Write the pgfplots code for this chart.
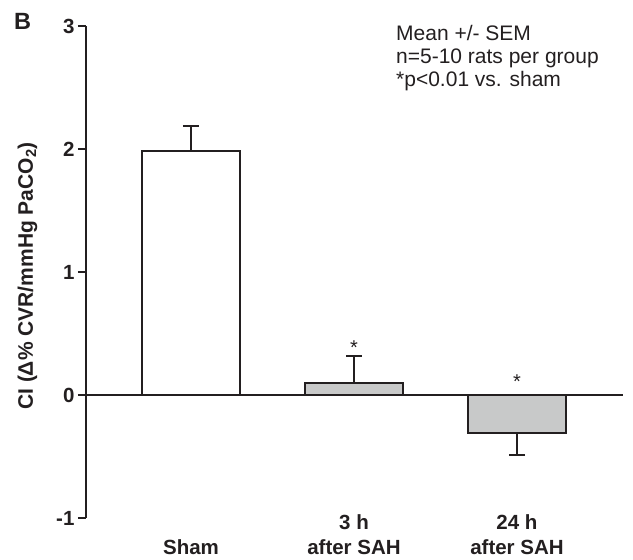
\documentclass[border=0pt]{standalone}
\usepackage{fontspec}
\setmainfont{Liberation Sans}
\usepackage{pgfplots}
\pgfplotsset{compat=1.18}
\definecolor{ink}{HTML}{231F20}
\definecolor{barg}{RGB}{200,201,201}
\newcommand{\lab}{\fontsize{20.5}{24}\selectfont\bfseries}
\begin{document}
\begin{tikzpicture}
\path[use as bounding box] (0pt,0pt) rectangle (633pt,560pt);
\begin{axis}[
  at={(86pt,42pt)}, anchor=south west,
  scale only axis, width=537pt, height=492pt,
  xmin=-0.644, xmax=2.65, ymin=-1, ymax=3,
  axis x line=none, axis y line=left,
  axis line style={-, line width=1.8pt, color=ink},
  xtick=\empty, ytick={-1,0,1,2,3}, yticklabels={-1,0,1,2,3},
  tick align=outside, major tick length=8pt,
  tick style={line width=1.8pt, color=ink},
  yticklabel style={font=\lab, text=ink},
  clip=false,
]
\draw[line width=1.8pt, ink] (axis cs:-0.644,0) -- (axis cs:2.65,0);
\addplot[ybar, bar width=98pt, bar shift=0pt, fill=white, draw=ink, line width=2pt,
  error bars/.cd, y dir=plus, y explicit,
  error bar style={line width=2pt, ink},
  error mark options={rotate=90, line width=2pt, mark size=8pt, ink}]
  coordinates {(0,1.98) +- (0,0.21)};
\addplot[ybar, bar width=98pt, bar shift=0pt, fill=barg, draw=ink, line width=2pt,
  error bars/.cd, y dir=plus, y explicit,
  error bar style={line width=2pt, ink},
  error mark options={rotate=90, line width=2pt, mark size=8pt, ink}]
  coordinates {(1,0.10) +- (0,0.22)};
\addplot[ybar, bar width=98pt, bar shift=0pt, fill=barg, draw=ink, line width=2pt,
  error bars/.cd, y dir=minus, y explicit,
  error bar style={line width=2pt, ink},
  error mark options={rotate=90, line width=2pt, mark size=8pt, ink}]
  coordinates {(2,-0.31) +- (0,0.18)};
\node[anchor=base, font=\fontsize{20}{24}\selectfont, text=ink, inner sep=0pt] at (axis cs:1,0.33) {*};
\node[anchor=base, font=\fontsize{20}{24}\selectfont, text=ink, inner sep=0pt] at (axis cs:2,0.055) {*};
\end{axis}
\node[anchor=base west, inner sep=0pt, font=\fontsize{23.5}{28}\selectfont\bfseries, text=ink] at (14pt,530pt) {B};
\node[anchor=base west, inner sep=0pt, font=\fontsize{21}{24}\selectfont, text=ink] at (396pt,519pt) {Mean +/- SEM};
\node[anchor=base west, inner sep=0pt, font=\fontsize{21}{24}\selectfont, text=ink] at (396pt,496pt) {n=5-10 rats per group};
\node[anchor=base west, inner sep=0pt, font=\fontsize{21}{24}\selectfont, text=ink] at (396pt,473pt) {*p<0.01 vs. sham};
\node[rotate=90, inner sep=0pt, font=\fontsize{21}{24}\selectfont\bfseries, text=ink] at (27.5pt,284pt) {CI (Δ\% CVR/mmHg PaCO\textsubscript{2})};
\node[anchor=base, inner sep=0pt, font=\lab, text=ink] at (191pt,5pt) {Sham};
\node[anchor=base, inner sep=0pt, font=\lab, text=ink] at (354pt,30.5pt) {3 h};
\node[anchor=base, inner sep=0pt, font=\lab, text=ink] at (354pt,5pt) {after SAH};
\node[anchor=base, inner sep=0pt, font=\lab, text=ink] at (517pt,30.5pt) {24 h};
\node[anchor=base, inner sep=0pt, font=\lab, text=ink] at (517pt,5pt) {after SAH};
\end{tikzpicture}
\end{document}
